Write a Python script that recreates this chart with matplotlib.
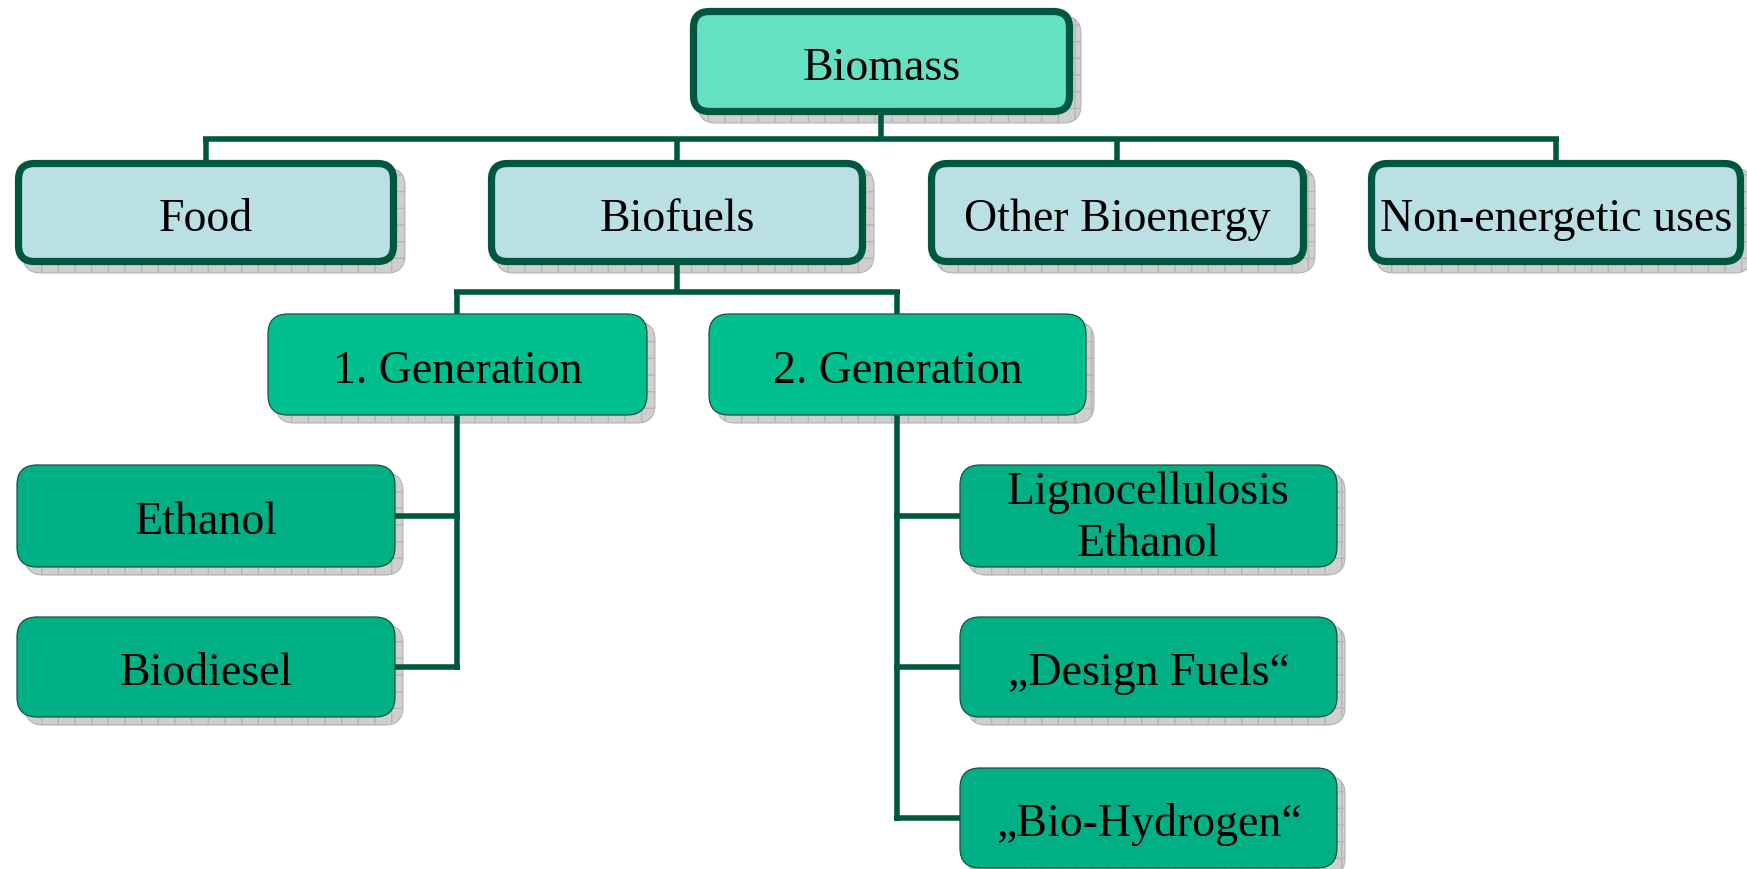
import matplotlib
matplotlib.use("Agg")
import matplotlib.pyplot as plt
from matplotlib.patches import FancyBboxPatch

# ---- data ----
root_label = "Biomass"
level1_labels = ["Food", "Biofuels", "Other Bioenergy", "Non-energetic uses"]
level2_labels = ["1. Generation", "2. Generation"]
gen1_labels = ["Ethanol", "Biodiesel"]
gen2_labels = ["Lignocellulosis\nEthanol", "\u201eDesign Fuels\u201c", "\u201eBio-Hydrogen\u201c"]

# ---- styles ----
C_LINE = "#00573F"
C_ROOT = "#66E0C2"
C_L1 = "#BAE0E3"
C_L2 = "#00BF8F"
C_L3 = "#00AF84"
FONT = "Liberation Serif"

W, H = 1747, 869
fig = plt.figure(figsize=(W / 100, H / 100), dpi=100)
ax = fig.add_axes([0, 0, 1, 1])
ax.set_xlim(0, W)
ax.set_ylim(H, 0)
ax.axis("off")

LW = 4.0  # connector width in points


def box(x0, y0, x1, y1, label, fc, thick, fs=33, ls=1.0, dy=7):
    # shadow
    off = 8
    sh = FancyBboxPatch((x0 + off, y0 + off), x1 - x0, y1 - y0,
                        boxstyle="round,pad=0,rounding_size=18",
                        facecolor="#CFCFCF", edgecolor="#B5B5B5",
                        hatch="+", linewidth=0.8, zorder=1)
    ax.add_patch(sh)
    if thick:
        b = 3.5  # inset so outer edge matches
        p = FancyBboxPatch((x0 + b, y0 + b), x1 - x0 - 2 * b, y1 - y0 - 2 * b,
                           boxstyle="round,pad=0,rounding_size=16",
                           facecolor=fc, edgecolor=C_LINE, linewidth=5.2, zorder=3)
    else:
        p = FancyBboxPatch((x0, y0), x1 - x0, y1 - y0,
                           boxstyle="round,pad=0,rounding_size=20",
                           facecolor=fc, edgecolor="#1F4F40", linewidth=0.9, zorder=3)
    ax.add_patch(p)
    ax.text((x0 + x1) / 2, (y0 + y1) / 2 + dy, label, ha="center", va="center",
            fontsize=fs, family=FONT, color="black", zorder=4, linespacing=ls)


def line(xs, ys):
    ax.plot(xs, ys, color=C_LINE, linewidth=LW, solid_capstyle="butt", zorder=2)


# ---- layout ----
root_box = (690, 8, 1073, 115)
l1_boxes = [(15, 160, 397, 265), (488, 160, 866, 265),
            (928, 160, 1307, 265), (1368, 160, 1744, 265)]
l2_boxes = [(268, 314, 647, 415), (709, 314, 1086, 415)]
g1_boxes = [(17, 465, 395, 567), (17, 617, 395, 717)]
g2_boxes = [(960, 465, 1337, 567), (960, 617, 1337, 717), (960, 768, 1337, 868)]

cx = lambda b: (b[0] + b[2]) / 2
cy = lambda b: (b[1] + b[3]) / 2

# connectors root -> level1
bus1 = 139
line([cx(root_box)] * 2, [root_box[3], bus1])
line([cx(l1_boxes[0]) - 3, cx(l1_boxes[-1]) + 3], [bus1, bus1])
for b in l1_boxes:
    line([cx(b)] * 2, [bus1, b[1]])

# Biofuels -> generations
bus2 = 292
bf = l1_boxes[1]
line([cx(bf)] * 2, [bf[3], bus2])
line([cx(l2_boxes[0]) - 3, cx(l2_boxes[1]) + 3], [bus2, bus2])
for b in l2_boxes:
    line([cx(b)] * 2, [bus2, b[1]])

# 1. Generation -> children (left side)
g1 = l2_boxes[0]
line([cx(g1)] * 2, [g1[3], cy(g1_boxes[-1]) + 3])
for b in g1_boxes:
    line([b[2], cx(g1) + 3], [cy(b)] * 2)

# 2. Generation -> children (right side)
g2 = l2_boxes[1]
line([cx(g2)] * 2, [g2[3], cy(g2_boxes[-1]) + 3])
for b in g2_boxes:
    line([cx(g2) - 3, b[0]], [cy(b)] * 2)

# ---- boxes ----
box(*root_box, root_label, C_ROOT, True)
for b, lab in zip(l1_boxes, level1_labels):
    box(*b, lab, C_L1, True)
for b, lab in zip(l2_boxes, level2_labels):
    box(*b, lab, C_L2, False)
for b, lab in zip(g1_boxes, gen1_labels):
    box(*b, lab, C_L3, False)
for b, lab in zip(g2_boxes, gen2_labels):
    multi = "\n" in lab
    box(*b, lab, C_L3, False, ls=1.3 if multi else 1.0, dy=3 if multi else 7)

fig.savefig("out.png", dpi=100, facecolor="white")
